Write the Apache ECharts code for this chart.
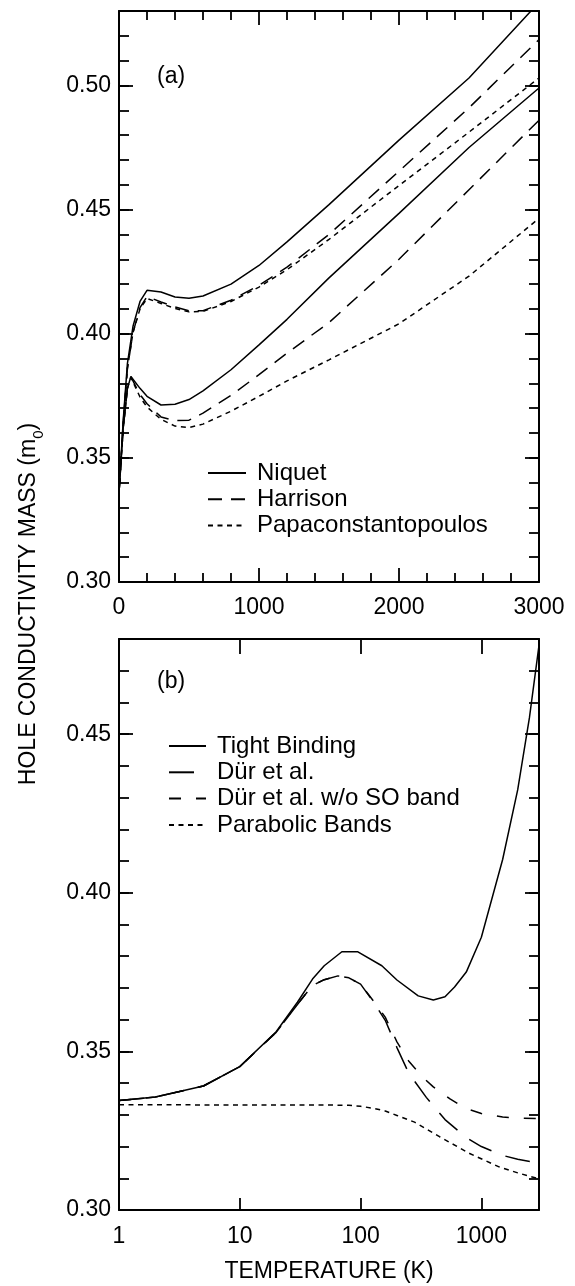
<!DOCTYPE html>
<html><head><meta charset="utf-8">
<script src="https://cdn.jsdelivr.net/npm/echarts@6/dist/echarts.min.js"></script>
<style>html,body{margin:0;padding:0;background:#fff}#c{width:575px;height:1286px}</style>
</head><body><div id="c"></div>
<script>
// ---------- Panel (a) data : temperature (K) vs hole conductivity mass ----------
const T_UP = [0, 30, 60, 100, 150, 200, 300, 400, 500, 600, 800, 1000, 1200, 1500, 2000, 2500, 3000];
const NIQUET_UP   = [0.336, 0.365, 0.388, 0.403, 0.413, 0.4175, 0.4168, 0.4148, 0.4143, 0.4152, 0.4200, 0.4275, 0.4370, 0.4520, 0.4780, 0.5030, 0.5335];
const HARRISON_UP = [0.336, 0.364, 0.386, 0.4005, 0.4105, 0.4150, 0.4128, 0.4108, 0.4092, 0.4093, 0.4135, 0.4195, 0.4268, 0.4400, 0.4655, 0.4910, 0.5185];
const PAPA_UP     = [0.336, 0.364, 0.386, 0.4005, 0.4100, 0.4142, 0.4122, 0.4102, 0.4088, 0.4090, 0.4130, 0.4188, 0.4258, 0.4380, 0.4597, 0.4812, 0.5030];

const T_LO = [0, 30, 60, 85, 150, 200, 300, 400, 500, 600, 800, 1000, 1200, 1500, 2000, 2500, 3000];
const NIQUET_LO   = [0.336, 0.362, 0.378, 0.3828, 0.3780, 0.3748, 0.3713, 0.3716, 0.3735, 0.3770, 0.3855, 0.3955, 0.4058, 0.4225, 0.4485, 0.4750, 0.4990];
const HARRISON_LO = [0.336, 0.362, 0.378, 0.3826, 0.3755, 0.3718, 0.3665, 0.3650, 0.3652, 0.3680, 0.3752, 0.3835, 0.3922, 0.4045, 0.4300, 0.4580, 0.4860];
const PAPA_LO     = [0.336, 0.362, 0.378, 0.3824, 0.3745, 0.3705, 0.3655, 0.3628, 0.3622, 0.3636, 0.3688, 0.3748, 0.3810, 0.3895, 0.4040, 0.4232, 0.4465];

const NAMES_A = ['Niquet', 'Harrison', 'Papaconstantopoulos'];

// ---------- Panel (b) data : log temperature ----------
const T_TB = [1, 2, 5, 10, 20, 30, 40, 50, 70, 95, 150, 200, 300, 400, 500, 600, 750, 1000, 1500, 2000, 2500, 3000];
const TIGHT = [0.3345, 0.3356, 0.3391, 0.3452, 0.3562, 0.3655, 0.3728, 0.3770, 0.3814, 0.3814, 0.3770, 0.3725, 0.3675, 0.3662, 0.3672, 0.3703, 0.3750, 0.3860, 0.4105, 0.4325, 0.4552, 0.4780];

const T_DUR = [1, 2, 5, 10, 20, 30, 40, 50, 65, 80, 100, 130, 160, 200, 250, 350, 500, 750, 1000, 1500, 2000, 3000];
const DUR = [0.3345, 0.3356, 0.3391, 0.3452, 0.3560, 0.3648, 0.3708, 0.3726, 0.3738, 0.3732, 0.3712, 0.3652, 0.3598, 0.3512, 0.3432, 0.3355, 0.3285, 0.3228, 0.3200, 0.3172, 0.3160, 0.3148];

const T_DURSO = [1, 2, 5, 10, 20, 30, 40, 50, 65, 80, 100, 130, 160, 200, 250, 320, 400, 550, 750, 1000, 1500, 2000, 3000];
const DUR_NOSO = [0.3345, 0.3356, 0.3391, 0.3452, 0.3560, 0.3648, 0.3708, 0.3726, 0.3738, 0.3732, 0.3712, 0.3655, 0.3608, 0.3530, 0.3470, 0.3422, 0.3388, 0.3350, 0.3320, 0.3304, 0.3293, 0.3290, 0.3288];

const T_PAR = [1, 10, 50, 80, 100, 130, 160, 200, 280, 450, 800, 1400, 2000, 3000];
const PARABOLIC = [0.3332, 0.3331, 0.3331, 0.3330, 0.3327, 0.3320, 0.3312, 0.3298, 0.3277, 0.3231, 0.3178, 0.3136, 0.3117, 0.3098];

const NAMES_B = ['Tight Binding', 'Dür et al.', 'Dür et al. w/o SO band', 'Parabolic Bands'];

const Y_TICKS = ['0.30', '0.35', '0.40', '0.45', '0.50'];
const X_TICKS_A = ['0', '1000', '2000', '3000'];
const X_TICKS_B = ['1', '10', '100', '1000'];

// ---------- helpers ----------
const FF = '"Liberation Sans", Arial, Helvetica, sans-serif';
const BLACK = '#000';
const pts = (t, v) => t.map((x, i) => [x, v[i]]);

function yAx(grid, pos, major, max, labels) {
  return {
    type: 'value', gridIndex: grid, position: pos, min: 0.30, max: max,
    interval: major ? 0.05 : 0.01,
    axisLine: { show: major, onZero: false, lineStyle: { color: BLACK, width: 2 } },
    axisTick: { show: true, inside: true, length: major ? 14 : 10, lineStyle: { color: BLACK, width: 1.8 } },
    axisLabel: {
      show: labels, margin: 8, color: BLACK, fontSize: 23, fontFamily: FF,
      formatter: v => { const s = v.toFixed(2); return Y_TICKS.indexOf(s) >= 0 ? s : ''; }
    },
    splitLine: { show: false }
  };
}
function xAxA(pos, labels) {
  return {
    type: 'value', gridIndex: 0, position: pos, min: 0, max: 3000, interval: 1000,
    axisLine: { show: true, onZero: false, lineStyle: { color: BLACK, width: 2 } },
    axisTick: { show: true, inside: true, length: 14, lineStyle: { color: BLACK, width: 1.8 } },
    minorTick: { show: true, splitNumber: 5, length: 9, lineStyle: { color: BLACK, width: 1.8 } },
    axisLabel: {
      show: labels, margin: 14, color: BLACK, fontSize: 23, fontFamily: FF,
      formatter: v => { const s = String(Math.round(v)); return X_TICKS_A.indexOf(s) >= 0 ? s : ''; }
    },
    splitLine: { show: false }, minorSplitLine: { show: false }
  };
}
function xAxB(pos, labels) {
  return {
    type: 'log', logBase: 10, gridIndex: 1, position: pos, min: 1, max: 3000,
    axisLine: { show: true, onZero: false, lineStyle: { color: BLACK, width: 2 } },
    axisTick: { show: true, inside: true, length: pos === 'top' ? 15 : 12, lineStyle: { color: BLACK, width: 1.8 } },
    axisLabel: {
      show: labels, margin: 15, color: BLACK, fontSize: 23, fontFamily: FF,
      formatter: v => { const s = String(Math.round(v)); return (X_TICKS_B.indexOf(s) >= 0 && Math.abs(v - Math.round(v)) < 1e-6) ? s : ''; }
    },
    splitLine: { show: false }
  };
}
function line(name, data, xi, yi, dash) {
  return {
    type: 'line', name: name, data: data, xAxisIndex: xi, yAxisIndex: yi,
    symbol: 'none', showSymbol: false, smooth: false, clip: true,
    lineStyle: { color: BLACK, width: 1.5, type: dash || 'solid' },
    itemStyle: { color: BLACK },
    emphasis: { disabled: true }
  };
}

const DASH_H = [14, 9], DOT = [5, 4.5], DASH_LONG = [25, 15], DASH_MED = [12, 15];

const legendBase = {
  orient: 'vertical', itemWidth: 38, itemHeight: 14, itemGap: 2.3, padding: 0,
  selectedMode: false,
  itemStyle: { opacity: 0, borderWidth: 0 },
  textStyle: { fontSize: 24, color: BLACK, fontFamily: FF, lineHeight: 24, padding: [0, 0, 0, 6] }
};

const option = {
  animation: false,
  backgroundColor: '#fff',
  grid: [
    { left: 119, top: 11, width: 420, height: 571, containLabel: false },
    { left: 119, top: 639, width: 420, height: 571, containLabel: false }
  ],
  xAxis: [xAxA('bottom', true), xAxA('top', false), xAxB('bottom', true), xAxB('top', false)],
  yAxis: [
    yAx(0, 'left', true, 0.53, true), yAx(0, 'left', false, 0.53, false),
    yAx(0, 'right', true, 0.53, false), yAx(0, 'right', false, 0.53, false),
    yAx(1, 'left', true, 0.48, true), yAx(1, 'left', false, 0.48, false),
    yAx(1, 'right', true, 0.48, false), yAx(1, 'right', false, 0.48, false)
  ],
  legend: [
    Object.assign({}, legendBase, { data: NAMES_A, left: 207, top: 461 }),
    Object.assign({}, legendBase, { data: NAMES_B, left: 168, top: 734, itemWidth: 37 })
  ],
  graphic: [
    { type: 'text', left: 157, top: 65, style: { text: '(a)', fontSize: 23, fontFamily: FF, fill: BLACK } },
    { type: 'text', left: 157, top: 670, style: { text: '(b)', fontSize: 23, fontFamily: FF, fill: BLACK } },
    { type: 'text', x: 329, y: 1272, style: { text: 'TEMPERATURE (K)', fontSize: 23, fontFamily: FF, fill: BLACK, align: 'center', verticalAlign: 'middle' } },
    { type: 'text', x: 29, y: 604, rotation: Math.PI / 2,
      style: { text: 'HOLE CONDUCTIVITY MASS (m{s|0})', fontSize: 23, fontFamily: FF, fill: BLACK,
        align: 'center', verticalAlign: 'middle', lineHeight: 34,
        rich: { s: { fontSize: 15, fontFamily: FF, fill: BLACK, verticalAlign: 'bottom', lineHeight: 15 } } } }
  ],
  series: [
    line('Niquet', pts(T_UP, NIQUET_UP), 0, 0),
    line('Harrison', pts(T_UP, HARRISON_UP), 0, 0, DASH_H),
    line('Papaconstantopoulos', pts(T_UP, PAPA_UP), 0, 0, DOT),
    line('Niquet', pts(T_LO, NIQUET_LO), 0, 0),
    line('Harrison', pts(T_LO, HARRISON_LO), 0, 0, DASH_H),
    line('Papaconstantopoulos', pts(T_LO, PAPA_LO), 0, 0, DOT),
    line('Tight Binding', pts(T_TB, TIGHT), 2, 4),
    line('Dür et al.', pts(T_DUR, DUR), 2, 4, DASH_LONG),
    line('Dür et al. w/o SO band', pts(T_DURSO, DUR_NOSO), 2, 4, DASH_MED),
    line('Parabolic Bands', pts(T_PAR, PARABOLIC), 2, 4, DOT)
  ]
};
const chart = echarts.init(document.getElementById('c'), null, { renderer: 'canvas' });
chart.setOption(option);
</script></body></html>
